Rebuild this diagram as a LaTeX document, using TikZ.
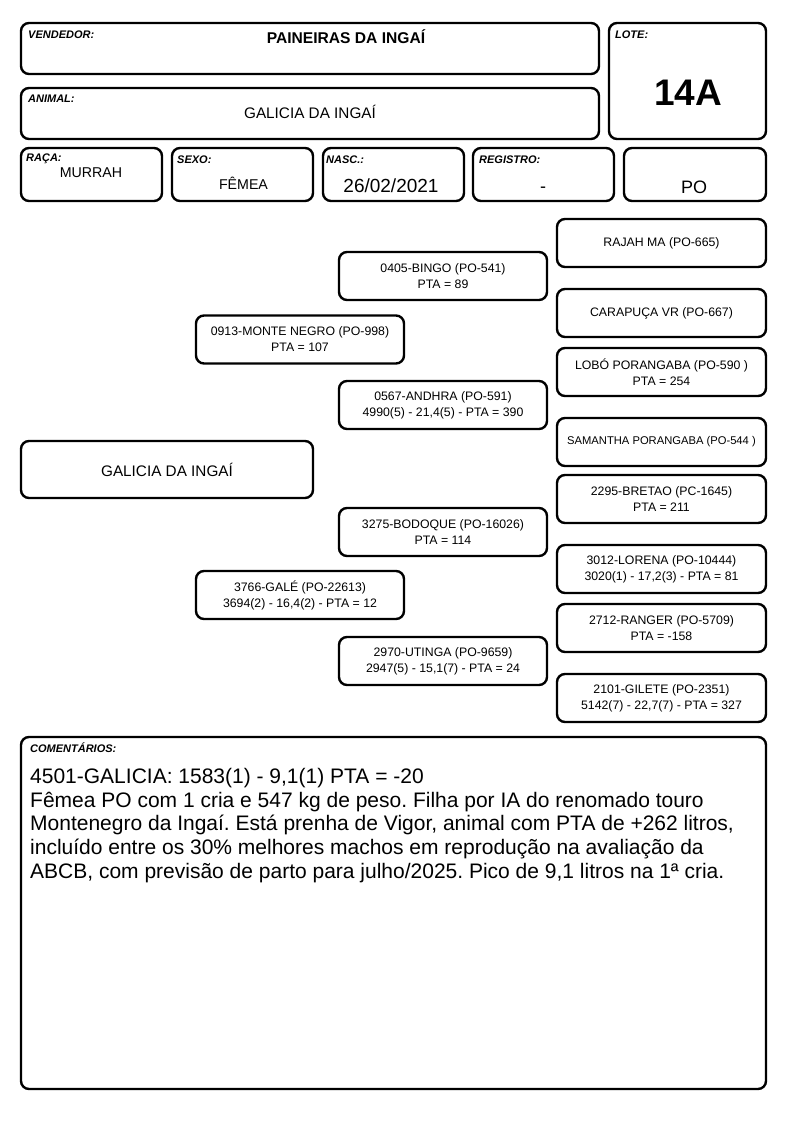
\documentclass[tikz,border=0pt]{standalone}
\usepackage{fontspec}
\setmainfont{Liberation Sans}
\frenchspacing
\newcommand\mylabfont{\fontsize{11}{13}\selectfont\bfseries\itshape}
\newcommand\mypedfont{\fontsize{12.3}{16}\selectfont}
\tikzset{
  box/.style={draw, line width=2.4pt, rounded corners=8pt, inner sep=0pt, align=center},
  lab/.style={font=\mylabfont, anchor=base west, inner sep=0pt},
  val/.style={anchor=base, inner sep=0pt},
  ped/.style={box, minimum width=208pt, minimum height=48pt, font=\mypedfont},
}
\begin{document}
\begin{tikzpicture}[x=1pt,y=-1pt]
\useasboundingbox (0,0) rectangle (794,1123);
% header
\node[box, minimum width=578pt, minimum height=51pt] (vend) at (310,48.5) {};
\node[box, minimum width=578pt, minimum height=51pt] (anim) at (310,113.5) {};
\node[box, minimum width=157pt, minimum height=116pt] (lote) at (687.5,81) {};
\node[box, minimum width=141pt, minimum height=53pt] (raca) at (91.5,174.5) {};
\node[box, minimum width=141pt, minimum height=53pt] (sexo) at (242.5,174.5) {};
\node[box, minimum width=141pt, minimum height=53pt] (nasc) at (393.5,174.5) {};
\node[box, minimum width=141pt, minimum height=53pt] (reg) at (543.5,174.5) {};
\node[box, minimum width=142pt, minimum height=53pt] (po) at (695,174.5) {};
\node[lab] (lvend) at (28,39) {VENDEDOR:};
\node[lab] (lanim) at (28,103) {ANIMAL:};
\node[lab] (llote) at (615,39) {LOTE:};
\node[lab] (lraca) at (26,162) {RAÇA:};
\node[lab] (lsexo) at (177,164) {SEXO:};
\node[lab] (lnasc) at (326,164) {NASC.:};
\node[lab] (lreg) at (479,164) {REGISTRO:};
\node[val, font=\fontsize{15.6}{18}\selectfont\bfseries] (tvend) at (346,44) {PAINEIRAS DA INGAÍ};
\node[val, font=\fontsize{15.3}{18}\selectfont] (tanim) at (310,119) {GALICIA DA INGAÍ};
\node[val, font=\fontsize{37}{40}\selectfont\bfseries] (tlote) at (688,106) {14A};
\node[val, font=\fontsize{14.2}{16}\selectfont] (traca) at (91,178) {MURRAH};
\node[val, font=\fontsize{14.2}{16}\selectfont] (tsexo) at (243.5,190) {FÊMEA};
\node[val, font=\fontsize{19}{20}\selectfont] (tnasc) at (391,193) {26/02/2021};
\node[val, font=\fontsize{18}{20}\selectfont] (treg) at (543,193) {-};
\node[val, font=\fontsize{18}{20}\selectfont] (tpo) at (694,194) {PO};
% pedigree
\node[box, minimum width=292pt, minimum height=57pt, font=\fontsize{15.3}{18}\selectfont] (main) at (167,469.5) {GALICIA DA INGAÍ};
\node[ped] (monte) at (300,339.5) {0913-MONTE NEGRO (PO-998)\\PTA = 107};
\node[ped] (gale) at (300,595) {3766-GALÉ (PO-22613)\\3694(2) - 16,4(2) - PTA = 12};
\node[ped] (bingo) at (443,276) {0405-BINGO (PO-541)\\PTA = 89};
\node[ped] (andhra) at (443,405) {0567-ANDHRA (PO-591)\\4990(5) - 21,4(5) - PTA = 390};
\node[ped] (bodoque) at (443,532) {3275-BODOQUE (PO-16026)\\PTA = 114};
\node[ped] (utinga) at (443,661) {2970-UTINGA (PO-9659)\\2947(5) - 15,1(7) - PTA = 24};
\node[ped, minimum width=209pt] (rajah) at (661.5,243) {RAJAH MA (PO-665)};
\node[ped, minimum width=209pt] (carapuca) at (661.5,313) {CARAPUÇA VR (PO-667)};
\node[ped, minimum width=209pt] (lobo) at (661.5,372) {LOBÓ PORANGABA (PO-590 )\\PTA = 254};
\node[ped, minimum width=209pt, font=\fontsize{11.2}{14}\selectfont] (samantha) at (661.5,442) {SAMANTHA PORANGABA (PO-544 )};
\node[ped, minimum width=209pt] (bretao) at (661.5,499) {2295-BRETAO (PC-1645)\\PTA = 211};
\node[ped, minimum width=209pt] (lorena) at (661.5,569) {3012-LORENA (PO-10444)\\3020(1) - 17,2(3) - PTA = 81};
\node[ped, minimum width=209pt] (ranger) at (661.5,628) {2712-RANGER (PO-5709)\\PTA = -158};
\node[ped, minimum width=209pt] (gilete) at (661.5,698) {2101-GILETE (PO-2351)\\5142(7) - 22,7(7) - PTA = 327};
% comments
\node[box, minimum width=745pt, minimum height=352pt] (com) at (393.5,913) {};
\node[lab] (lcom) at (30,752) {COMENTÁRIOS:};
\node[anchor=north west, inner sep=0pt, align=left, font=\fontsize{21}{23.75}\selectfont] (tcom) at (30,768)
{4501-GALICIA: 1583(1) - 9,1(1) PTA = -20\\
Fêmea PO com 1 cria e 547 kg de peso. Filha por IA do renomado touro\\
Montenegro da Ingaí. Está prenha de Vigor, animal com PTA de +262 litros,\\
incluído entre os 30\% melhores machos em reprodução na avaliação da\\
ABCB, com previsão de parto para julho/2025. Pico de 9,1 litros na 1ª cria.};
\end{tikzpicture}
\end{document}
